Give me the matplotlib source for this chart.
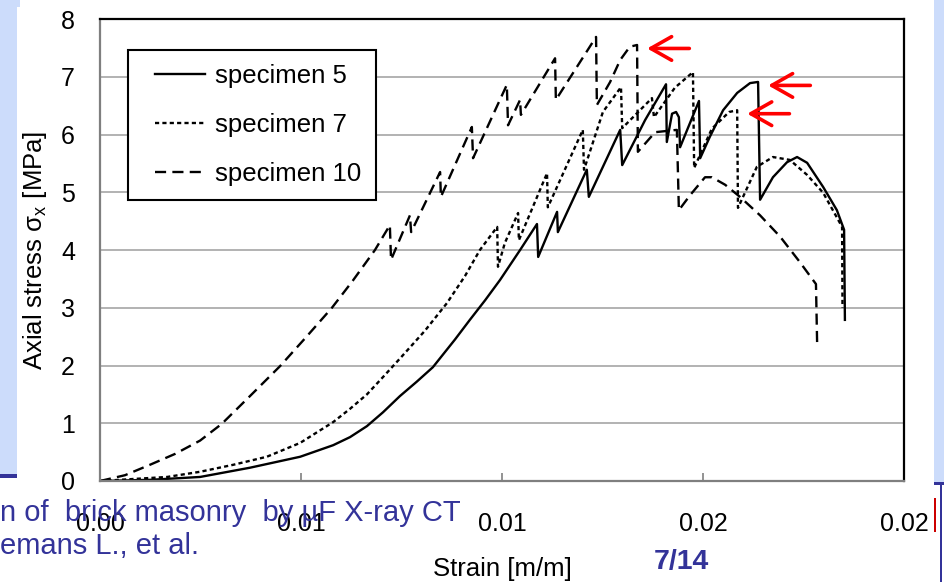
import numpy as np
import matplotlib
matplotlib.use('Agg')
import matplotlib.pyplot as plt
from matplotlib.patches import Rectangle
from matplotlib.lines import Line2D
from matplotlib.legend_handler import HandlerLine2D

plt.rcParams['font.family'] = ['Liberation Sans', 'DejaVu Sans']
plt.rcParams['mathtext.fontset'] = 'custom'
plt.rcParams['mathtext.rm'] = 'Liberation Sans'
plt.rcParams['lines.scale_dashes'] = False

# specimen 5 (solid)
strain5 = [0, 0.00124, 0.00249, 0.00373, 0.00498, 0.0058, 0.00622, 0.00664, 0.00704,
           0.00746, 0.00788, 0.00828, 0.00883, 0.0092, 0.00958, 0.00995, 0.01045,
           0.01087, 0.0109, 0.01137, 0.01139,
           0.01211, 0.01216, 0.01294, 0.01299, 0.01356, 0.01408, 0.0141, 0.01423,
           0.01433, 0.0144, 0.01443, 0.0149, 0.01493, 0.01517, 0.0155, 0.01585,
           0.01617, 0.01637, 0.01642, 0.01674, 0.01709, 0.01734, 0.01759, 0.01799,
           0.01833, 0.01851, 0.01853]
stress5 = [0, 0.02, 0.07, 0.23, 0.42, 0.62, 0.76, 0.95, 1.19,
           1.47, 1.72, 1.97, 2.45, 2.79, 3.13, 3.48, 4.00,
           4.45, 3.88, 4.66, 4.31,
           5.39, 4.92, 6.08, 5.47, 6.25, 6.87, 5.87, 6.36,
           6.39, 6.30, 5.78, 6.58, 5.59, 5.96, 6.42, 6.72,
           6.89, 6.91, 4.87, 5.26, 5.52, 5.61, 5.51, 5.09,
           4.69, 4.35, 2.79]

# specimen 7 (short dashes)
strain7 = [0, 0.00167, 0.00249, 0.00331, 0.00415, 0.00498, 0.0058, 0.00622, 0.00664,
           0.00704, 0.00746, 0.00808, 0.00863, 0.00908, 0.00945, 0.00988, 0.0099,
           0.01007, 0.0104,
           0.01042, 0.01112, 0.01114, 0.01201, 0.01204, 0.01251, 0.01296, 0.01299,
           0.01373, 0.01378, 0.0143, 0.01475, 0.01478, 0.01522, 0.01565, 0.01585,
           0.01587, 0.01634, 0.01674, 0.01716, 0.01759, 0.01799, 0.01846, 0.01847]
stress7 = [0, 0.07, 0.16, 0.28, 0.42, 0.66, 1.02, 1.25, 1.50,
           1.80, 2.12, 2.60, 3.08, 3.55, 4.00, 4.40, 3.71,
           4.12, 4.64,
           4.17, 5.33, 4.74, 6.08, 5.39, 6.39, 6.82, 6.11,
           6.63, 6.30, 6.81, 7.08, 5.42, 6.10, 6.39, 6.42,
           4.73, 5.44, 5.61, 5.56, 5.30, 4.99, 4.40, 3.00]

# specimen 10 (long dashes)
strain10 = [0, 0.00062, 0.00124, 0.00187, 0.00249, 0.00303, 0.00373, 0.00448, 0.0051,
            0.00577, 0.00629, 0.00684, 0.00721, 0.00724, 0.00771, 0.00774, 0.00846,
            0.00848, 0.00925, 0.00928, 0.01012, 0.01015, 0.01045, 0.01047, 0.01132,
            0.01134, 0.01234, 0.01236, 0.01269, 0.01294, 0.01318, 0.01336, 0.01338,
            0.01381, 0.01435, 0.0144, 0.01468, 0.01505, 0.01522, 0.01555, 0.01592,
            0.01642, 0.01692, 0.01741, 0.01781, 0.01784]
stress10 = [0, 0.10, 0.28, 0.47, 0.70, 0.99, 1.47, 1.99, 2.47,
            3.00, 3.47, 4.00, 4.43, 3.83, 4.60, 4.31, 5.35,
            4.92, 6.13, 5.59, 6.86, 6.16, 6.60, 6.34, 7.32,
            6.60, 7.69, 6.51, 6.91, 7.29, 7.52, 7.55, 5.70,
            6.04, 6.08, 4.69, 4.95, 5.26, 5.26, 5.13, 4.92,
            4.60, 4.23, 3.79, 3.41, 2.35]

labels = ['specimen 5', 'specimen 7', 'specimen 10']
# strain of the peak each red arrow points at
arrow_strain = {'specimen 5': 0.01637, 'specimen 7': 0.01585, 'specimen 10': 0.01336}

xticks = [0, 0.005, 0.01, 0.015, 0.02]
xtick_labels = ['0.00', '0.01', '0.01', '0.02', '0.02']
yticks = [0, 1, 2, 3, 4, 5, 6, 7, 8]

slide_blue = '#333399'
panel_blue = '#CCDCFB'

fig = plt.figure(figsize=(9.44, 5.82), dpi=100)
ax = fig.add_axes([100/944, 101/582, 804/944, 462/582])

series = [(strain5, stress5, '-'),
          (strain7, stress7, (0, (3.0, 2.3))),
          (strain10, stress10, (0, (8.0, 4.5)))]
for (sx, sy, ls), lab in zip(series, labels):
    ax.plot(sx, sy, color='black', lw=1.7, linestyle=ls, label=lab)

# red arrows at the marked peaks
for (sx, sy, ls), lab in zip(series, labels):
    i = int(np.argmin(np.abs(np.array(sx) - arrow_strain[lab])))
    tip = (sx[i] + 0.00025, sy[i] - 0.06)
    tail = (tip[0] + 0.00105, tip[1])
    ax.annotate('', xy=tip, xytext=tail,
                arrowprops=dict(arrowstyle='->,head_length=1.5,head_width=0.85',
                                mutation_scale=10, color='red', lw=2.6,
                                shrinkA=0, shrinkB=0))

ax.set_xlim(0, 0.02)
ax.set_ylim(0, 8)
ax.set_xticks(xticks)
ax.set_xticklabels(xtick_labels)
ax.set_yticks(yticks)
ax.yaxis.grid(True, color='#a6a6a6', lw=1.2)
ax.set_axisbelow(True)
ax.tick_params(axis='x', direction='in', length=6, width=1.2, color='#808080',
               labelsize=18, pad=22)
ax.tick_params(axis='y', length=0, labelsize=18, pad=18)
for s in ['left', 'bottom']:
    ax.spines[s].set_color('#7f7f7f')
    ax.spines[s].set_linewidth(1.6)
for s in ['top', 'right']:
    ax.spines[s].set_color('black')
    ax.spines[s].set_linewidth(1.6)

ax.set_ylabel(r'Axial stress σ$_\mathregular{x}$ [MPa]', fontsize=18.5)
ax.yaxis.set_label_coords(-0.063, 0.5)
ax.set_xlabel('Strain [m/m]', fontsize=18.5)
ax.xaxis.set_label_coords(0.5, -0.165)

leg = ax.legend(loc='upper left', bbox_to_anchor=(0.0348, 0.933), borderaxespad=0,
                fontsize=18.5, frameon=True, fancybox=False, framealpha=1,
                edgecolor='black', handlelength=2.45, handletextpad=0.4,
                borderpad=0.55, labelspacing=0.97,
                handler_map={Line2D: HandlerLine2D(xpad=0.5)})
leg.get_frame().set_linewidth(1.5)

# slide decorations around the chart
def fig_rect(x0, y0, x1, y1, color):
    fig.add_artist(Rectangle((x0/944, 1 - y1/582), (x1 - x0)/944, (y1 - y0)/582,
                             transform=fig.transFigure, color=color, lw=0, zorder=1))

fig_rect(0, 0, 20, 7, panel_blue)
fig_rect(0, 7, 17, 476, panel_blue)
fig_rect(0, 474, 17, 478, slide_blue)
fig_rect(934, 0, 944, 483, panel_blue)
fig_rect(934, 482, 944, 485, slide_blue)
fig_rect(940, 485, 942, 582, slide_blue)
fig_rect(934, 498, 936, 532, '#cc0000')

fig.text(0.0, (582 - 521)/582, 'n of  brick masonry  by µF X-ray CT',
         color=slide_blue, fontsize=21, ha='left', va='baseline', zorder=5)
fig.text(0.0, (582 - 554)/582, 'emans L., et al.',
         color=slide_blue, fontsize=21, ha='left', va='baseline', zorder=5)
fig.text(681/944, (582 - 569)/582, '7/14', color=slide_blue, fontsize=20.5,
         fontweight='bold', ha='center', va='baseline', zorder=5)

fig.savefig('out.png', dpi=100)
